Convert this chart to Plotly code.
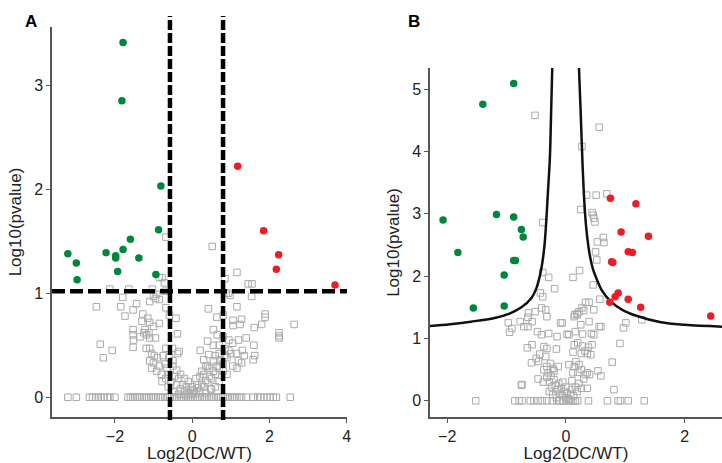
import plotly.graph_objects as go

# ---------------- Panel A data ----------------
a_green_x = [-1.79, -1.82, -0.81, -0.87, -3.22, -3.00, -2.98, -2.23, -1.98, -1.98, -1.79, -1.60, -1.93, -1.38, -0.94]
a_green_y = [3.41, 2.85, 2.03, 1.61, 1.38, 1.29, 1.13, 1.39, 1.36, 1.34, 1.42, 1.52, 1.21, 1.34, 1.18]
a_red_x = [1.18, 1.85, 2.24, 2.18, 3.70]
a_red_y = [2.22, 1.60, 1.37, 1.23, 1.08]

a_gray_x = [-2.13, -1.64, -1.80, -2.48, -1.85, -1.74, -1.44, -1.53, -1.03, -0.95, -0.85, -0.78, -0.72, -0.85, -0.68,
            -1.10, -1.00, -0.92, -0.70, -1.28, -1.15, -1.30, -1.10, -1.22, -1.00, -0.85, -1.18, -1.10, -1.25, -1.53,
            -1.53, -1.52, -1.53, -1.35, -1.12, -0.95, -0.68, -0.59, -0.42, -0.38,
            -2.38, -2.07, -2.30, -1.19, -1.10, -0.68, -0.51, -0.38, -0.34,
            -1.05, -0.98, -1.10, -1.00, -0.90, -0.85, -1.05, -0.92, -0.80, -0.75, -0.70, -0.65, -0.78, -0.68, -0.60,
            -0.55, -0.50, -0.45, -0.40, -0.35, -0.30, -0.25, -0.20, -0.15, -0.10, -0.05, 0.00, 0.05, 0.10, 0.15,
            0.20, 0.25, 0.30, 0.35, 0.40, 0.45, 0.50, 0.55, 0.60, 0.65, 0.70, 0.75, 0.80, 0.85, 0.90, 0.95, 1.00,
            -0.30, -0.20, -0.10, 0.10, 0.20, 0.00, -0.40, -0.50, -0.60, 0.30, 0.40, -0.62, -0.48, -0.35, 0.35, 0.48,
            -0.15, 0.12,
            0.52, 1.16, 0.85, 0.88, 1.45, 1.55, 1.54, 0.98, 0.94, 0.42, 1.16, 0.64, 0.81, 1.06, 1.28, 1.06, 1.24,
            1.61, 1.80, 1.89, 1.89, 2.64, 2.25, 2.25, 2.25,
            0.55, 0.65, 0.80, 0.95, 1.05, 1.40, 1.20, 1.60, 1.62, 1.58, 1.28, 1.16, 1.30, 0.85, 0.70, 1.15, 1.35,
            1.20, 1.05, 0.40, 0.55, 0.21, 0.43, 0.30, 0.35, 0.45, 0.25, 0.55, 0.60, 0.70, 0.80, 0.90, 0.70, 0.60, 0.50]
a_gray_y = [1.04, 1.04, 0.96, 0.87, 0.87, 0.78, 0.90, 0.84, 1.04, 0.95, 0.94, 1.15, 1.10, 1.15, 1.54,
            0.92, 0.97, 0.99, 1.02, 0.80, 0.76, 0.73, 0.72, 0.65, 0.68, 0.71, 0.60, 0.57, 0.62, 0.65,
            0.60, 0.55, 0.48, 0.58, 0.62, 0.57, 0.86, 0.79, 0.76, 0.61,
            0.51, 0.45, 0.38, 0.47, 0.47, 0.47, 0.47, 0.42, 0.44,
            0.42, 0.40, 0.35, 0.33, 0.38, 0.30, 0.28, 0.25, 0.22, 0.40, 0.32, 0.28, 0.15, 0.18, 0.22,
            0.15, 0.30, 0.20, 0.12, 0.18, 0.08, 0.12, 0.06, 0.10, 0.04, 0.07, 0.03, 0.06, 0.04, 0.09,
            0.06, 0.12, 0.10, 0.16, 0.14, 0.20, 0.18, 0.25, 0.22, 0.30, 0.28, 0.35, 0.32, 0.40, 0.38, 0.45, 0.42,
            0.22, 0.18, 0.15, 0.18, 0.20, 0.10, 0.26, 0.35, 0.38, 0.22, 0.30, 0.10, 0.05, 0.03, 0.04, 0.08,
            0.02, 0.12,
            1.45, 1.20, 1.14, 1.00, 1.09, 1.09, 0.97, 0.98, 1.00, 0.85, 0.87, 0.77, 0.79, 0.74, 0.75, 0.69, 0.70,
            0.67, 0.70, 0.80, 0.77, 0.70, 0.62, 0.59, 0.57,
            0.65, 0.60, 0.58, 0.55, 0.52, 0.57, 0.55, 0.50, 0.40, 0.36, 0.33, 0.28, 0.45, 0.47, 0.50, 0.42, 0.40,
            0.35, 0.30, 0.54, 0.50, 0.45, 0.41, 0.36, 0.30, 0.28, 0.25, 0.35, 0.40, 0.42, 0.25, 0.22, 0.15, 0.10, 0.08]

a_zero_x = [-3.22, -3.00, -2.66, -2.58, -2.50, -2.43, -2.36, -2.28, -2.20, -2.13, -2.00, -1.66, -1.60, -1.54,
            -1.48, -1.42, -1.36, -1.30, -1.24, -1.18, -1.12, -1.06, -1.00, -0.94, -0.88, -0.82, -0.76, -0.70,
            -0.64, -0.58, -0.52, -0.46, -0.40, -0.34, -0.28, -0.22, -0.16, -0.10, -0.04, 0.02, 0.08, 0.14, 0.20,
            0.26, 0.32, 0.38, 0.44, 0.50, 0.56, 0.62, 0.68, 0.74, 0.80, 0.86, 0.92, 0.98, 1.04, 1.10, 1.16, 1.22,
            1.28, 1.40, 1.58, 1.70, 1.78, 1.86, 1.94, 2.02, 2.10, 2.18, 2.54]
a_zero_y = [0.0] * len(a_zero_x)

a_vlines = [-0.575, 0.80]
a_hline = 1.02

# ---------------- Panel B data ----------------
b_green_x = [-0.88, -1.40, -2.07, -1.17, -0.88, -0.75, -0.72, -1.82, -0.88, -0.85, -1.04, -1.56, -1.04]
b_green_y = [5.09, 4.76, 2.90, 2.99, 2.95, 2.75, 2.63, 2.38, 2.25, 2.25, 2.02, 1.49, 1.52]
b_red_x = [0.75, 1.18, 0.93, 1.39, 1.05, 1.12, 0.77, 0.79, 0.88, 0.83, 0.74, 1.05, 1.26, 2.44]
b_red_y = [3.25, 3.16, 2.71, 2.64, 2.39, 2.38, 2.23, 2.22, 1.73, 1.67, 1.58, 1.63, 1.50, 1.36]

b_gray_x = [-0.52, 0.56, 0.27, 0.35, 0.51, 0.69, 0.25, 0.44, 0.46, 0.47, 0.49, -0.39, 0.63, 0.64, 0.53, 0.50,
            0.52, 0.23, 0.12, 0.46, 0.57, -0.39, -0.29, -0.43, -0.39, -0.19,
            0.33, 0.39, 0.27, 0.30, 0.22, 0.19, 0.14, 0.47, 1.01, 0.97, 1.28, 0.91,
            -0.41, -0.34, -0.32, -0.52, -0.63, -0.64, -0.77, -0.71, -0.64, -0.57, -0.97, -0.91, -0.95,
            -0.48, -0.41, -0.29, -0.15, -0.09, 0.05, 0.15, 0.19,
            -0.57, -0.37, -0.32, -0.16, -0.65,
            -0.58, -0.46, -0.34, -0.32, -0.37, -0.47, -0.26, -0.13, 0.05, 0.17, -0.75,
            -0.06, 0.02, 0.16, 0.25, 0.28, 0.39, 0.43, 0.47, 0.56, 0.59,
            0.14, 0.20, 0.28, 0.32, 0.38, 0.44, 0.26, 0.12, 0.36, 0.42,
            0.78, 0.14, 0.22, 0.26, 0.20, 0.12, 0.36, 0.40, 0.54, 0.59, 0.81, 0.36, -0.74,
            -0.28, -0.24, -0.20, -0.18, -0.15, -0.12, -0.10, -0.08, -0.06, -0.03, 0.00, 0.02, 0.05, 0.08, 0.10,
            0.13, 0.16, 0.19, 0.22, 0.26, -0.22, -0.16, 0.00, -0.05,
            -0.30, -0.25, -0.32, -0.20, -0.38, -0.28, -0.44, -0.50, -0.22, 0.30, 0.33, 0.10]
b_gray_y = [4.58, 4.39, 4.08, 3.30, 3.30, 3.32, 3.07, 3.02, 2.98, 2.93, 2.87, 2.86, 2.62, 2.54, 2.55, 2.39,
            2.26, 2.09, 1.98, 1.86, 1.63, 2.06, 1.98, 1.73, 1.67, 1.80,
            1.58, 1.58, 1.49, 1.45, 1.43, 1.38, 1.35, 1.46, 1.25, 1.17, 1.30, 0.92,
            1.49, 1.46, 1.35, 1.43, 1.41, 1.34, 1.27, 1.19, 1.19, 1.27, 1.25, 1.16, 1.10,
            1.11, 1.06, 1.08, 1.03, 1.25, 1.06, 1.38, 1.40,
            0.90, 0.87, 0.84, 0.83, 0.85,
            0.61, 0.63, 0.71, 0.55, 0.50, 0.35, 0.60, 0.55, 0.58, 0.63, 0.25,
            1.25, 1.07, 1.11, 1.22, 1.07, 1.27, 1.08, 1.06, 1.19, 1.19,
            0.90, 0.93, 0.88, 0.80, 0.86, 0.90, 0.76, 0.78, 0.76, 0.74,
            0.62, 0.55, 0.58, 0.50, 0.46, 0.45, 0.45, 0.42, 0.48, 0.40, 0.18, 0.20, 0.26,
            0.30, 0.22, 0.34, 0.25, 0.18, 0.28, 0.12, 0.20, 0.08, 0.15, 0.05, 0.12, 0.03, 0.10, 0.18,
            0.08, 0.22, 0.15, 0.28, 0.20, 0.10, 0.05, 0.22, 0.30,
            0.45, 0.40, 0.38, 0.48, 0.30, 0.15, 0.75, 0.68, 0.52, 0.35, 0.42, 0.32]

b_zero_x = [-1.52, -0.86, -0.79, -0.74, -0.60, -0.54, -0.47, -0.40, -0.32, -0.23, -0.15, -0.10, -0.05, 0.00,
            0.04, 0.08, 0.12, 0.16, 0.20, 0.38, 0.70, 0.88, 0.92, 1.05, 1.32]
b_zero_y = [0.0] * len(b_zero_x)

# threshold curve
b_curve_left_x = [-2.29, -1.95, -1.60, -1.20, -0.95, -0.75, -0.58, -0.50, -0.44, -0.40, -0.36, -0.33, -0.30, -0.27, -0.25, -0.23]
b_curve_left_y = [1.20, 1.23, 1.27, 1.33, 1.40, 1.50, 1.65, 1.80, 2.00, 2.20, 2.50, 2.90, 3.40, 3.90, 4.60, 5.34]
b_curve_right_x = [0.22, 0.25, 0.28, 0.31, 0.34, 0.38, 0.42, 0.46, 0.52, 0.60, 0.75, 0.95, 1.20, 1.60, 2.00, 2.63]
b_curve_right_y = [5.34, 4.60, 3.80, 3.20, 2.80, 2.47, 2.25, 2.10, 1.95, 1.78, 1.60, 1.46, 1.36, 1.26, 1.22, 1.19]

# ---------------- styling ----------------
W, H = 722, 463
GREEN = "rgb(0,135,60)"
RED = "rgb(238,28,36)"
GRAY = "rgb(170,170,170)"
FONT = "Liberation Sans, Arial, sans-serif"

gray_marker = dict(symbol="square-open", size=6.5, color=GRAY, line=dict(width=1, color=GRAY))
dot = lambda c: dict(symbol="circle", size=7.5, color=c, line=dict(width=0))

fig = go.Figure()
# Panel A
fig.add_trace(go.Scatter(x=a_zero_x, y=a_zero_y, mode="markers", marker=gray_marker, xaxis="x", yaxis="y"))
fig.add_trace(go.Scatter(x=a_gray_x, y=a_gray_y, mode="markers", marker=gray_marker, xaxis="x", yaxis="y"))
fig.add_trace(go.Scatter(x=a_green_x, y=a_green_y, mode="markers", marker=dot(GREEN), xaxis="x", yaxis="y"))
fig.add_trace(go.Scatter(x=a_red_x, y=a_red_y, mode="markers", marker=dot(RED), xaxis="x", yaxis="y"))
# Panel B
fig.add_trace(go.Scatter(x=b_zero_x, y=b_zero_y, mode="markers", marker=gray_marker, xaxis="x2", yaxis="y2"))
fig.add_trace(go.Scatter(x=b_gray_x, y=b_gray_y, mode="markers", marker=gray_marker, xaxis="x2", yaxis="y2"))
fig.add_trace(go.Scatter(x=b_curve_left_x, y=b_curve_left_y, mode="lines", line=dict(color="#111", width=2.5, shape="spline"),
                         xaxis="x2", yaxis="y2"))
fig.add_trace(go.Scatter(x=b_curve_right_x, y=b_curve_right_y, mode="lines", line=dict(color="#111", width=2.5, shape="spline"),
                         xaxis="x2", yaxis="y2"))
fig.add_trace(go.Scatter(x=b_green_x, y=b_green_y, mode="markers", marker=dot(GREEN), xaxis="x2", yaxis="y2"))
fig.add_trace(go.Scatter(x=b_red_x, y=b_red_y, mode="markers", marker=dot(RED), xaxis="x2", yaxis="y2"))

# dashed threshold lines for panel A
shapes = []
for v in a_vlines:
    shapes.append(dict(type="line", xref="x", yref="paper", x0=v, x1=v, y0=(H - 420) / H, y1=(H - 16) / H,
                       line=dict(color="black", width=4.5, dash="10px,3px")))
shapes.append(dict(type="line", xref="paper", yref="y", x0=52 / W, x1=347 / W, y0=a_hline, y1=a_hline,
                   line=dict(color="black", width=4.5, dash="13px,5px")))

axis_common = dict(showgrid=False, zeroline=False, showline=True, linecolor="#555", linewidth=1.5,
                   ticks="outside", ticklen=4, tickcolor="#555", automargin=False,
                   tickfont=dict(size=16, color="#222", family=FONT),
                   title_font=dict(size=17, color="#222", family=FONT))

fig.update_layout(
    width=W, height=H, margin=dict(l=0, r=0, t=0, b=0, pad=0),
    paper_bgcolor="white", plot_bgcolor="white", showlegend=False,
    font=dict(family=FONT),
    xaxis=dict(domain=[52 / W, 347 / W], range=[-3.63, 4.01], tickvals=[-2, 0, 2, 4],
               title=dict(text="Log2(DC/WT)", standoff=5), anchor="y", **axis_common),
    yaxis=dict(domain=[(H - 417) / H, (H - 27) / H], range=[-0.19, 3.56], tickvals=[0, 1, 2, 3],
               title=dict(text="Log10(pvalue)", standoff=8), anchor="x", **axis_common),
    xaxis2=dict(domain=[430 / W, 1.0], range=[-2.29, 2.63], tickvals=[-2, 0, 2],
                title=dict(text="Log2(DC/WT)", standoff=5), anchor="y2", **axis_common),
    yaxis2=dict(domain=[(H - 417) / H, (H - 68) / H], range=[-0.26, 5.34], tickvals=[0, 1, 2, 3, 4, 5],
                title=dict(text="Log10(pvalue)", standoff=8), anchor="x2", **axis_common),
    shapes=shapes,
    annotations=[
        dict(text="<b>A</b>", x=31 / W, y=(H - 21) / H, xref="paper", yref="paper", showarrow=False,
             xanchor="center", yanchor="middle", font=dict(size=17, color="black", family=FONT)),
        dict(text="<b>B</b>", x=414 / W, y=(H - 21) / H, xref="paper", yref="paper", showarrow=False,
             xanchor="center", yanchor="middle", font=dict(size=17, color="black", family=FONT)),
    ],
)

fig.write_html("out.html", config={"displayModeBar": False},
               post_script="document.body.style.margin='0px';document.body.style.padding='0px';")
